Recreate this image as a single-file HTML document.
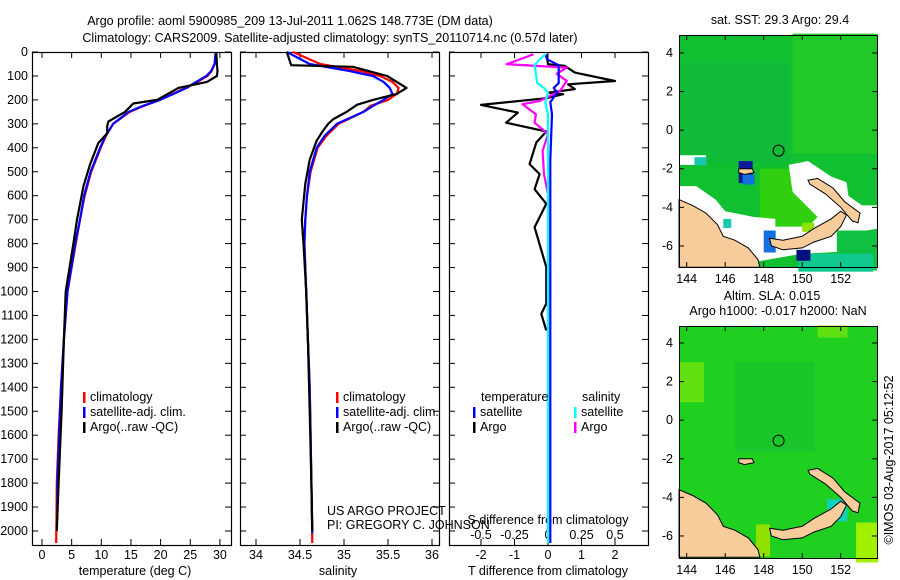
<!DOCTYPE html>
<html><head><meta charset="utf-8"><style>
body{margin:0;background:#fff;width:900px;height:580px;overflow:hidden;font-family:"Liberation Sans",sans-serif}
svg{display:block}
text{font-family:"Liberation Sans",sans-serif;font-size:12.5px;fill:#000}
</style></head><body>
<svg id="fig" width="900" height="580" viewBox="0 0 900 580">
<text x="290" y="25" text-anchor="middle">Argo profile: aoml 5900985_209 13-Jul-2011 1.062S 148.773E (DM data)</text>
<text x="330" y="42" text-anchor="middle">Climatology: CARS2009. Satellite-adjusted climatology: synTS_20110714.nc (0.57d later)</text>
<text x="780" y="24" text-anchor="middle">sat. SST: 29.3 Argo: 29.4</text>
<text x="772" y="300" text-anchor="middle">Altim. SLA: 0.015</text>
<text x="778" y="315" text-anchor="middle">Argo h1000: -0.017 h2000: NaN</text>
<text transform="translate(893,460) rotate(-90)" text-anchor="middle">©IMOS 03-Aug-2017 05:12:52</text>
<text x="135" y="575" text-anchor="middle">temperature (deg C)</text>
<text x="338" y="575" text-anchor="middle">salinity</text>
<text x="548" y="575" text-anchor="middle">T difference from climatology</text>
<text x="327" y="515">US ARGO PROJECT</text>
<text x="327" y="529">PI: GREGORY C. JOHNSON</text>
<text x="548" y="524" text-anchor="middle">S difference from climatology</text>
</svg>
<script>
// ---- data ----
const depthClim=[0,50,80,100,125,150,175,200,225,250,300,350,400,500,600,700,800,1000,1200,1400,1600,1800,2050];
const tempClim=[29.3,29.1,28.6,27.9,26.2,24.2,22.0,19.9,17.2,14.8,12.0,10.8,9.9,8.3,7.2,6.4,5.7,4.3,3.7,3.2,2.8,2.5,2.4];
const tempSat=[29.3,29.1,28.5,27.7,26.0,24.4,22.2,19.9,17.0,14.6,12.0,10.7,9.8,8.2,7.1,6.4,5.6,4.3,3.7,3.2,2.9,2.6,2.6];
const depthArgoT=[0,50,80,100,125,150,200,215,250,270,290,310,340,380,470,560,700,800,1000,1200,1500,1800,2000];
const tempArgo=[29.4,29.5,29.6,29.5,27.8,23.0,19.4,15.4,14.0,12.6,11.2,11.0,11.0,9.5,8.1,7.0,5.9,5.3,4.0,3.7,3.3,2.8,2.5];
const salClim=[34.42,34.73,35.2,35.41,35.55,35.62,35.6,35.5,35.3,35.22,34.94,34.8,34.7,34.62,34.58,34.56,34.55,34.57,34.59,34.61,34.62,34.63,34.64];
const salSat=[34.35,34.61,35.07,35.33,35.45,35.52,35.55,35.45,35.33,35.22,34.92,34.78,34.69,34.61,34.58,34.56,34.55,34.57,34.59,34.61,34.62,34.63,34.64];
const depthArgoS=[0,55,62,100,150,175,200,220,250,280,300,330,370,450,550,700,800,1000,1200,1500,1800,2000];
const salArgo=[34.35,34.4,35.1,35.49,35.71,35.6,35.33,35.15,35.03,34.88,34.82,34.76,34.69,34.61,34.56,34.52,34.54,34.57,34.59,34.61,34.63,34.64];
const depthDT=[10,51,58,86,121,135,155,170,176,193,221,253,295,332,378,468,510,573,634,732,898,1050,1093,1163];
const tdiffArgo=[-0.04,0,0.5,0.8,2.0,0.6,0.8,0,0.45,-0.05,-2.0,-0.9,-1.25,-0.05,-0.35,-0.55,-0.25,-0.4,-0.05,-0.4,-0.05,-0.05,-0.2,-0.05];
const depthDS=[10,51,65,91,121,162,204,218,260,295,343,413,510,593,746,1200,2000];
const sdiffArgo=[-0.11,-0.31,0.14,0.065,0.14,0.09,-0.06,-0.19,-0.09,-0.1,0,-0.04,-0.03,0,0,0,0];
const depthSat=[10,30,55,90,130,150,170,210,260,450,1000,2050];
const tdiffSat=[-0.07,-0.03,0.32,0.32,0.32,0.17,0.27,0.07,0.12,0.07,0.07,0.07];
const sdiffSat=[-0.02,-0.06,-0.1,-0.09,-0.08,-0.03,0,-0.02,0,0,0,0];
const depthTicks=[0,100,200,300,400,500,600,700,800,900,1000,1100,1200,1300,1400,1500,1600,1700,1800,1900,2000];
const tempTicks=[0,5,10,15,20,25,30];
const salTicks=[34,34.5,35,35.5,36];
const tdTicks=[-2,-1,0,1,2];
const sdTicks=[-0.5,-0.25,0,0.25,0.5];
const lonTicks=[144,146,148,150,152];
const latTicks=[4,2,0,-2,-4,-6];
const argoLon=148.773, argoLat=-1.062;

const NS="http://www.w3.org/2000/svg";
const svg=document.getElementById('fig');
function el(tag,attrs,parent){const e=document.createElementNS(NS,tag);for(const k in attrs)e.setAttribute(k,attrs[k]);(parent||svg).appendChild(e);return e;}
const yD=d=>52+d*0.2395;
const xT=t=>42+t*5.93;
const xS=s=>256+(s-34)*88;
const xTD=t=>548+t*33.5;
const xSD=s=>548+s*134;
const TOP=52,BOT=545;

function line(xs,ds,fx,color,name){
  const p=xs.map((v,i)=>fx(v).toFixed(1)+','+yD(ds[i]).toFixed(1)).join(' ');
  const e=el('polyline',{points:p,fill:'none',stroke:color,'stroke-width':2.2,'stroke-linejoin':'round'});
  
  
}
function frame(x0,x1,name){
  const r=el('rect',{x:x0+0.5,y:TOP+0.5,width:x1-x0,height:BOT-TOP,fill:'none',stroke:'#000','stroke-width':1.2});
  
  
  depthTicks.forEach(d=>{const y=yD(d);el('line',{x1:x0,x2:x0+6,y1:y,y2:y,stroke:'#000'});el('line',{x1:x1-6,x2:x1,y1:y,y2:y,stroke:'#000'});});
}
function xticks(vals,fx,labels,ly,name){
  vals.forEach((v,i)=>{const x=fx(v);el('line',{x1:x,x2:x,y1:BOT-6,y2:BOT,stroke:'#000'});el('line',{x1:x,x2:x,y1:TOP,y2:TOP+6,stroke:'#000'});
    if(labels){const t=el('text',{x:x,y:ly,'text-anchor':'middle'});t.textContent=labels[i];
      
      }});
}
// panel 1
frame(32,231,'temperature-panel');
depthTicks.forEach(d=>{const t=el('text',{x:28,y:yD(d)+4,'text-anchor':'end'});t.textContent=d;
  
  });
xticks(tempTicks,xT,tempTicks.map(String),559,'temperature-tick-label');
line(tempClim,depthClim,xT,'#f00','temp-climatology-line');
line(tempSat,depthClim.map(d=>Math.min(d,1950)),xT,'#00f','temp-satellite-line');
line(tempArgo,depthArgoT,xT,'#000','temp-argo-line');
// panel 2
frame(240,439,'salinity-panel');
xticks(salTicks,xS,salTicks.map(String),559,'salinity-tick-label');
line(salClim,depthClim,xS,'#f00','sal-climatology-line');
line(salSat,depthClim.map(d=>Math.min(d,2010)),xS,'#00f','sal-satellite-line');
line(salArgo,depthArgoS,xS,'#000','sal-argo-line');
// panel 3
frame(449,648,'difference-panel');
xticks(tdTicks,xTD,tdTicks.map(String),559,'tdiff-tick-label');
sdTicks.forEach((v,i)=>{const t=el('text',{x:xSD(v),y:539,'text-anchor':'middle'});t.textContent=String(v);
  
  });
line(tdiffArgo,depthDT,xTD,'#000','tdiff-argo-line');
line(sdiffArgo,depthDS,xSD,'#f0f','sdiff-argo-line');
line(tdiffSat,depthSat,xTD,'#00f','tdiff-satellite-line');
line(sdiffSat,depthSat,xSD,'#0ff','sdiff-satellite-line');
// legends
function legend(x,y,color,label,name){
  el('rect',{x:x,y:y-9,width:2.5,height:11,fill:color});
  const t=el('text',{x:x+7,y:y});t.textContent=label;
  
  
}
[[83,'temp'],[336,'sal']].forEach(([x,p])=>{
  legend(x,401,'#f00','climatology',p+'-legend-climatology');
  legend(x,416,'#00f','satellite-adj. clim.',p+'-legend-satellite');
  legend(x,431,'#000','Argo(..raw -QC)',p+'-legend-argo');
});
let t1=el('text',{x:481,y:401});t1.textContent='temperature';


let t2=el('text',{x:582,y:401});t2.textContent='salinity';


legend(473,416,'#00f','satellite','legend-t-satellite');
legend(473,431,'#000','Argo','legend-t-argo');
legend(574,416,'#0ff','satellite','legend-s-satellite');
legend(574,431,'#f0f','Argo','legend-s-argo');

// ---- maps ----
const landNG=[[143.6,-3.6],[144.3,-3.9],[145,-4.3],[145.6,-4.9],[145.9,-5.5],[146.5,-5.7],[147.2,-6.1],[147.7,-6.7],[147.8,-7.1],[143.6,-7.1]];
const landNB=[[148.3,-5.6],[149,-5.7],[150,-5.5],[150.6,-5.1],[151.5,-4.6],[152,-4.2],[152.3,-4.4],[152.0,-5.0],[151.5,-5.5],[150.6,-5.8],[150,-6.1],[149,-6.2],[148.4,-6.0]];
const landNI=[[150.3,-2.6],[150.8,-2.5],[151.6,-3.0],[152.2,-3.7],[153.0,-4.3],[152.9,-4.8],[152.6,-4.7],[152.0,-4.0],[151.2,-3.3],[150.4,-2.8]];
const landManus=[[146.7,-2.0],[147.4,-2.0],[147.5,-2.2],[147.0,-2.3],[146.7,-2.2]];
function map(y0,latTop,name,sst){
  const X=lon=>679+(lon-143.6)*19.25, Y=lat=>y0+(latTop-lat)*19.3;
  const g=el('g',{});
  
  
  el('rect',{x:679,y:y0,width:198,height:232,fill:sst?'#10c030':'#20d020'},g);
  const P=pts=>pts.map(p=>X(p[0]).toFixed(1)+','+Y(p[1]).toFixed(1)).join(' ');
  if(sst){
    el('rect',{x:X(143.6),y:Y(3.5),width:110,height:100,fill:'#12b83c',opacity:0.8},g);
    el('rect',{x:X(149.5),y:Y(5),width:85,height:120,fill:'#20c828'},g);
    el('rect',{x:X(147.8),y:Y(-2),width:60,height:60,fill:'#30d010'},g);
    el('polygon',{points:P([[143.6,-1.3],[145,-1.3],[145,-1.8],[143.6,-1.8]]),fill:'#fff'},g);
    el('polygon',{points:P([[143.6,-2.9],[144.5,-2.9],[145.5,-3.6],[146,-4.2],[147.5,-4.5],[148.6,-4.6],[148.6,-5.0],[150.3,-5.0],[150.8,-4.5],[149.5,-3.2],[149.3,-1.8],[150.3,-1.6],[151.5,-2.4],[152.3,-2.7],[152.4,-3.4],[153.1,-3.9],[153.9,-3.9],[153.9,-5.1],[152.8,-5.3],[152,-6.3],[150,-6.4],[147.7,-6.8],[147.5,-7.1],[143.6,-7.1]]),fill:'#fff'},g);
    el('rect',{x:X(151.8),y:Y(-5.2),width:40,height:40,fill:'#10c040'},g);
    el('rect',{x:X(149.8),y:Y(-6.4),width:75,height:18,fill:'#10c890'},g);
    el('rect',{x:X(146.7),y:Y(-1.6),width:14,height:22,fill:'#0a1a9a'},g);
    el('rect',{x:X(146.9),y:Y(-2.3),width:12,height:10,fill:'#1470e0'},g);
    el('rect',{x:X(148),y:Y(-5.2),width:12,height:22,fill:'#1470e0'},g);
    el('rect',{x:X(149.7),y:Y(-6.2),width:14,height:11,fill:'#001080'},g);
    el('rect',{x:X(144.4),y:Y(-1.4),width:12,height:8,fill:'#18c8b0'},g);
    el('rect',{x:X(145.9),y:Y(-4.6),width:8,height:9,fill:'#18c8b0'},g);
    el('rect',{x:X(150),y:Y(-4.8),width:12,height:9,fill:'#90e000'},g);
  } else {
    el('rect',{x:X(143.6),y:Y(3),width:25,height:40,fill:'#60e010'},g);
    el('rect',{x:X(146.5),y:Y(3),width:80,height:90,fill:'#18c030',opacity:0.6},g);
    el('rect',{x:X(150.8),y:Y(4.9),width:30,height:12,fill:'#60e010'},g);
    el('rect',{x:X(152.8),y:Y(-5.3),width:22,height:40,fill:'#a0f000'},g);
    el('rect',{x:X(151.3),y:Y(-4.1),width:20,height:22,fill:'#10d0c0'},g);
    el('rect',{x:X(147.6),y:Y(-5.4),width:14,height:32,fill:'#90e000'},g);
  }
  el('polygon',{points:P(landNG),fill:'#f9cc9c',stroke:'#000','stroke-width':1},g);
  el('polygon',{points:P(landNB),fill:'#f9cc9c',stroke:'#000','stroke-width':1},g);
  el('polygon',{points:P(landNI),fill:'#f9cc9c',stroke:'#000','stroke-width':1},g);
  el('polygon',{points:P(landManus),fill:'#f9cc9c',stroke:'#000','stroke-width':1},g);
  const c=el('circle',{cx:X(argoLon),cy:Y(argoLat),r:5.5,fill:'none',stroke:'#000','stroke-width':1},g);
  
  
  el('rect',{x:679.5,y:y0+0.5,width:198,height:232,fill:'none',stroke:'#000','stroke-width':1},g);
  lonTicks.forEach(l=>{const x=X(l);el('line',{x1:x,x2:x,y1:y0,y2:y0+5,stroke:'#000'},g);el('line',{x1:x,x2:x,y1:y0+227,y2:y0+232,stroke:'#000'},g);
    const t=el('text',{x:x,y:y0+248,'text-anchor':'middle'},g);t.textContent=l;
    
    });
  latTicks.forEach(l=>{const y=Y(l);el('line',{x1:679,x2:684,y1:y,y2:y,stroke:'#000'},g);el('line',{x1:872,x2:877,y1:y,y2:y,stroke:'#000'},g);
    const t=el('text',{x:673,y:y+4,'text-anchor':'end'},g);t.textContent=l;
    
    });
}
map(35,4.93,'sst-map',true);
map(326,4.88,'sla-map',false);
</script>
</body></html>
